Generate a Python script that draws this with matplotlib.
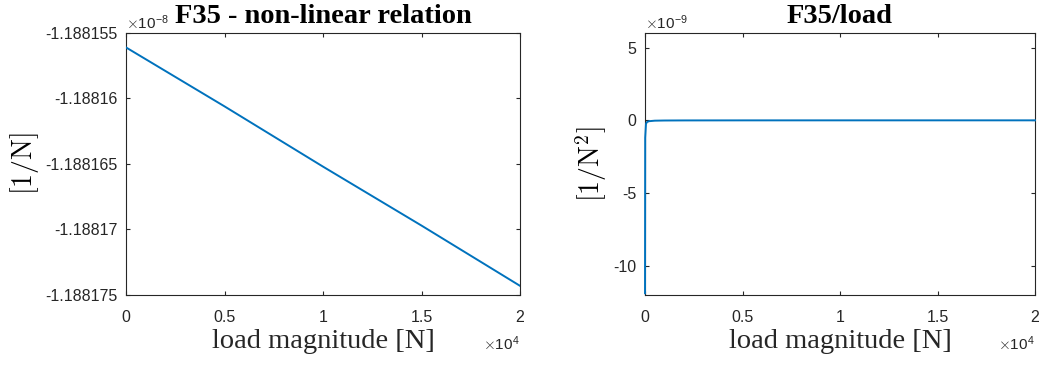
import numpy as np
import matplotlib
matplotlib.use("Agg")
import matplotlib.pyplot as plt
from matplotlib.ticker import FuncFormatter, FixedLocator

plt.rcParams['font.family'] = 'Liberation Sans'
plt.rcParams['mathtext.fontset'] = 'cm'

# F35 coefficient over the load range [1/N]
load_lin = [0, 5000, 10000, 15000, 20000]
f35 = [-1.1881561e-8, -1.1881606e-8, -1.1881652e-8, -1.1881697e-8, -1.1881743e-8]

# F35 divided by load [1/N^2]
load_div = [1, 10, 50, 100, 200, 500, 1000, 2000, 5000, 10000, 20000]
f35_per_load = [-11.88e-9, -1.19e-9, -0.24e-9, -0.12e-9, -0.06e-9, -0.024e-9,
                -0.012e-9, -0.006e-9, -0.0024e-9, -0.0012e-9, -0.0006e-9]

x_ticks = [0, 5000, 10000, 15000, 20000]
left_yticks = [-1.188175e-8, -1.18817e-8, -1.188165e-8, -1.18816e-8, -1.188155e-8]
left_ylabels = ['-1.188175', '-1.18817', '-1.188165', '-1.18816', '-1.188155']
right_yticks = [-10e-9, -5e-9, 0, 5e-9]

blue = '#0072BD'
grey = '#262626'

fig = plt.figure(figsize=(10.46, 3.65), dpi=100)
ax1 = fig.add_axes([126 / 1046, 70 / 365, 394 / 1046, 262 / 365])
ax2 = fig.add_axes([645 / 1046, 70 / 365, 390 / 1046, 262 / 365])


def style(ax):
    for s in ax.spines.values():
        s.set_color(grey)
        s.set_linewidth(0.8)
    ax.tick_params(direction='in', top=True, right=True, length=3,
                   labelsize=11.5, colors=grey, labelcolor=grey)
    ax.tick_params(axis='y', pad=6)
    ax.tick_params(axis='x', pad=11)
    ax.set_xlim(0, 20000)
    ax.xaxis.set_major_locator(FixedLocator(x_ticks))
    ax.xaxis.set_major_formatter(FuncFormatter(lambda v, p: f'{v / 1e4:g}'))
    ax.set_xlabel('load magnitude [N]', family='Liberation Serif', fontsize=20.5,
                  color=grey, labelpad=3)
    ax.text(1.0, -0.15, r'$\times$10$^{\mathregular{4}}$', transform=ax.transAxes,
            fontsize=11, color=grey, va='top', ha='right')


ax1.plot(load_lin, f35, color=blue, lw=1.4, zorder=3)
style(ax1)
ax1.set_ylim(left_yticks[0], left_yticks[-1])
ax1.yaxis.set_major_locator(FixedLocator(left_yticks))
ax1.set_yticklabels(left_ylabels)
ax1.set_ylabel(r'$[1/\mathrm{N}]$', fontsize=20, labelpad=3)
ax1.set_title('F35 - non-linear relation', family='Liberation Serif',
              fontweight='bold', fontsize=20.5, pad=7.5)
ax1.text(0, 1.005, r'$\times$10$^{\mathregular{-8}}$', transform=ax1.transAxes,
         fontsize=11, color=grey, va='bottom', ha='left')

ax2.plot(load_div, f35_per_load, color=blue, lw=1.4, zorder=3, clip_on=False)
style(ax2)
ax2.set_ylim(-12e-9, 6e-9)
ax2.yaxis.set_major_locator(FixedLocator(right_yticks))
ax2.yaxis.set_major_formatter(FuncFormatter(lambda v, p: f'{v / 1e-9:g}'))
ax2.set_ylabel(r'$[1/\mathrm{N}^2]$', fontsize=20, labelpad=3)
ax2.set_title('F35/load', family='Liberation Serif',
              fontweight='bold', fontsize=20.5, pad=7.5)
ax2.text(0, 1.005, r'$\times$10$^{\mathregular{-9}}$', transform=ax2.transAxes,
         fontsize=11, color=grey, va='bottom', ha='left')

fig.savefig('out.png', dpi=100)
